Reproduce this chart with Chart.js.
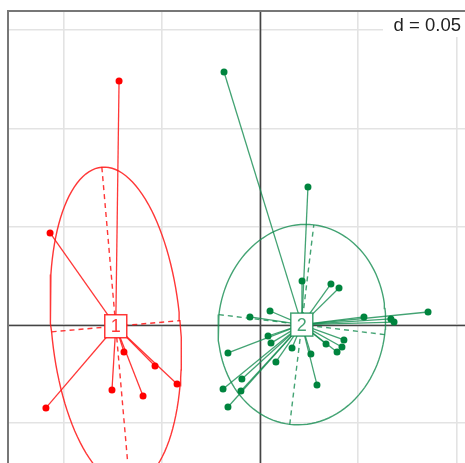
<!DOCTYPE html>
<html>
<head>
<meta charset="utf-8">
<script src="https://cdn.jsdelivr.net/npm/chart.js@4/dist/chart.umd.min.js"></script>
<style>
html,body{margin:0;padding:0;background:#fff;}
#wrap{width:465px;height:463px;position:relative;}
</style>
</head>
<body>
<div id="wrap"><canvas id="c" width="465" height="463"></canvas></div>
<script>
// ---- data (factorial coordinates) ----
const classLabels = ["1", "2"];
const class1X = [-0.0717, -0.1068, -0.0692, -0.0534, -0.0422, -0.0753, -0.0595, -0.1089];
const class1Y = [0.1241, 0.0468, -0.0137, -0.0209, -0.0300, -0.0331, -0.0361, -0.0422];
const class2X = [-0.0183, 0.0244, 0.0214, 0.0361, 0.0402, 0.0051, -0.0051, 0.0529, 0.0855, 0.0666,
                 0.0682, 0.0041, 0.0056, 0.0427, 0.0417, 0.0336, 0.0392, 0.0163, 0.0259, 0.0081,
                 0.0290, -0.0163, -0.0092, -0.0188, -0.0097, -0.0163];
const class2Y = [0.1287, 0.0702, 0.0224, 0.0209, 0.0188, 0.0071, 0.0041, 0.0041, 0.0066, 0.0031,
                 0.0015, -0.0056, -0.0092, -0.0076, -0.0112, -0.0097, -0.0137, -0.0117, -0.0148, -0.0188,
                 -0.0305, -0.0142, -0.0275, -0.0326, -0.0336, -0.0417];
const gridStep = 0.05;
const dLabel = "d = 0.05";
const xRange = [-0.1282, 0.1043];
const yRange = [-0.0702, 0.1597];
const cellipse = 1.5;

const pointCols = ["#ff0000", "#00843e"];
const lineCols = ["rgba(255,20,20,0.85)", "rgba(20,140,80,0.8)"];

function stats(xs, ys) {
  const n = xs.length;
  const mx = xs.reduce((a, b) => a + b, 0) / n;
  const my = ys.reduce((a, b) => a + b, 0) / n;
  let a = 0, b = 0, c = 0;
  for (let i = 0; i < n; i++) {
    const dx = xs[i] - mx, dy = ys[i] - my;
    a += dx * dx; b += dx * dy; c += dy * dy;
  }
  a /= n; b /= n; c /= n;
  const m = (a + c) / 2, r = Math.sqrt(((a - c) / 2) ** 2 + b * b);
  const l1 = m + r, l2 = Math.max(m - r, 0);
  const th = 0.5 * Math.atan2(2 * b, a - c);
  return { mx, my, A1: cellipse * Math.sqrt(l1), A2: cellipse * Math.sqrt(l2), th };
}

const groups = [[class1X, class1Y], [class2X, class2Y]];
const centers = [];
const datasets = [];
groups.forEach(([xs, ys], g) => {
  const s = stats(xs, ys);
  centers.push(s);
  const ct = Math.cos(s.th), st = Math.sin(s.th);
  const ell = [];
  for (let k = 0; k <= 120; k++) {
    const t = 2 * Math.PI * k / 120;
    const u = Math.cos(t) * s.A1, v = Math.sin(t) * s.A2;
    ell.push({ x: s.mx + u * ct - v * st, y: s.my + u * st + v * ct });
  }
  datasets.push({ data: ell, showLine: true, borderColor: lineCols[g], borderWidth: 1.4, pointRadius: 0, order: 5 });
  datasets.push({ data: [{ x: s.mx - s.A1 * ct, y: s.my - s.A1 * st }, { x: s.mx + s.A1 * ct, y: s.my + s.A1 * st }],
    showLine: true, borderColor: lineCols[g], borderWidth: 1.4, borderDash: [5, 4], pointRadius: 0, order: 5 });
  datasets.push({ data: [{ x: s.mx + s.A2 * st, y: s.my - s.A2 * ct }, { x: s.mx - s.A2 * st, y: s.my + s.A2 * ct }],
    showLine: true, borderColor: lineCols[g], borderWidth: 1.4, borderDash: [5, 4], pointRadius: 0, order: 5 });
  for (let i = 0; i < xs.length; i++) {
    datasets.push({ data: [{ x: s.mx, y: s.my }, { x: xs[i], y: ys[i] }], showLine: true,
      borderColor: lineCols[g], borderWidth: 1.3, pointRadius: 0, order: 4 });
  }
  datasets.push({ data: xs.map((x, i) => ({ x, y: ys[i] })), showLine: false, pointRadius: 3.5,
    pointBackgroundColor: pointCols[g], pointBorderWidth: 0, order: 1 });
});

const overlay = {
  id: 'overlay',
  beforeDatasetsDraw(chart) {
    const ctx = chart.ctx, a = chart.chartArea;
    const xs = chart.scales.x, ys = chart.scales.y;
    ctx.save();
    ctx.strokeStyle = '#444';
    ctx.lineWidth = 1.6;
    const x0 = Math.round(xs.getPixelForValue(0)) + 0.5, y0 = Math.round(ys.getPixelForValue(0)) + 0.5;
    ctx.beginPath(); ctx.moveTo(x0, a.top); ctx.lineTo(x0, a.bottom); ctx.stroke();
    ctx.beginPath(); ctx.moveTo(a.left, y0); ctx.lineTo(a.right, y0); ctx.stroke();
    ctx.strokeStyle = '#777';
    ctx.lineWidth = 2;
    ctx.beginPath(); ctx.moveTo(a.left, a.bottom); ctx.lineTo(a.left, a.top); ctx.lineTo(a.right, a.top); ctx.stroke();
    ctx.restore();
  },
  afterDatasetsDraw(chart) {
    const ctx = chart.ctx, a = chart.chartArea;
    const xs = chart.scales.x, ys = chart.scales.y;
    ctx.save();
    ctx.font = '18px "Liberation Sans", Arial, sans-serif';
    ctx.textAlign = 'center'; ctx.textBaseline = 'middle';
    centers.forEach((s, g) => {
      const px = xs.getPixelForValue(s.mx), py = ys.getPixelForValue(s.my);
      ctx.fillStyle = '#fff';
      ctx.fillRect(px - 11, py - 11.5, 22, 23);
      ctx.strokeStyle = lineCols[g]; ctx.lineWidth = 1.5;
      ctx.strokeRect(px - 11, py - 11.5, 22, 23);
      ctx.fillStyle = lineCols[g];
      ctx.fillText(classLabels[g], px, py + 1);
    });
    // d label
    ctx.fillStyle = '#fff';
    ctx.fillRect(383, a.top + 1, a.right - 383, 25);
    ctx.fillStyle = '#222';
    ctx.textAlign = 'right'; ctx.textBaseline = 'alphabetic';
    ctx.font = '18.5px "Liberation Sans", Arial, sans-serif';
    ctx.fillText(dLabel, 461, 31);
    ctx.restore();
  }
};

new Chart(document.getElementById('c'), {
  type: 'scatter',
  data: { datasets },
  options: {
    responsive: false,
    animation: false,
    events: [],
    layout: { autoPadding: false, padding: { left: 8, top: 11, right: 0, bottom: 0 } },
    plugins: { legend: { display: false }, tooltip: { enabled: false } },
    scales: {
      x: {
        type: 'linear', min: xRange[0], max: xRange[1],
        ticks: { display: false, stepSize: gridStep, includeBounds: false },
        grid: { color: '#e3e3e3', lineWidth: 1.6, drawTicks: false },
        border: { display: false }
      },
      y: {
        type: 'linear', min: yRange[0], max: yRange[1],
        ticks: { display: false, stepSize: gridStep, includeBounds: false },
        grid: { color: '#e3e3e3', lineWidth: 1.6, drawTicks: false },
        border: { display: false }
      }
    }
  },
  plugins: [overlay]
});
</script>
</body>
</html>
